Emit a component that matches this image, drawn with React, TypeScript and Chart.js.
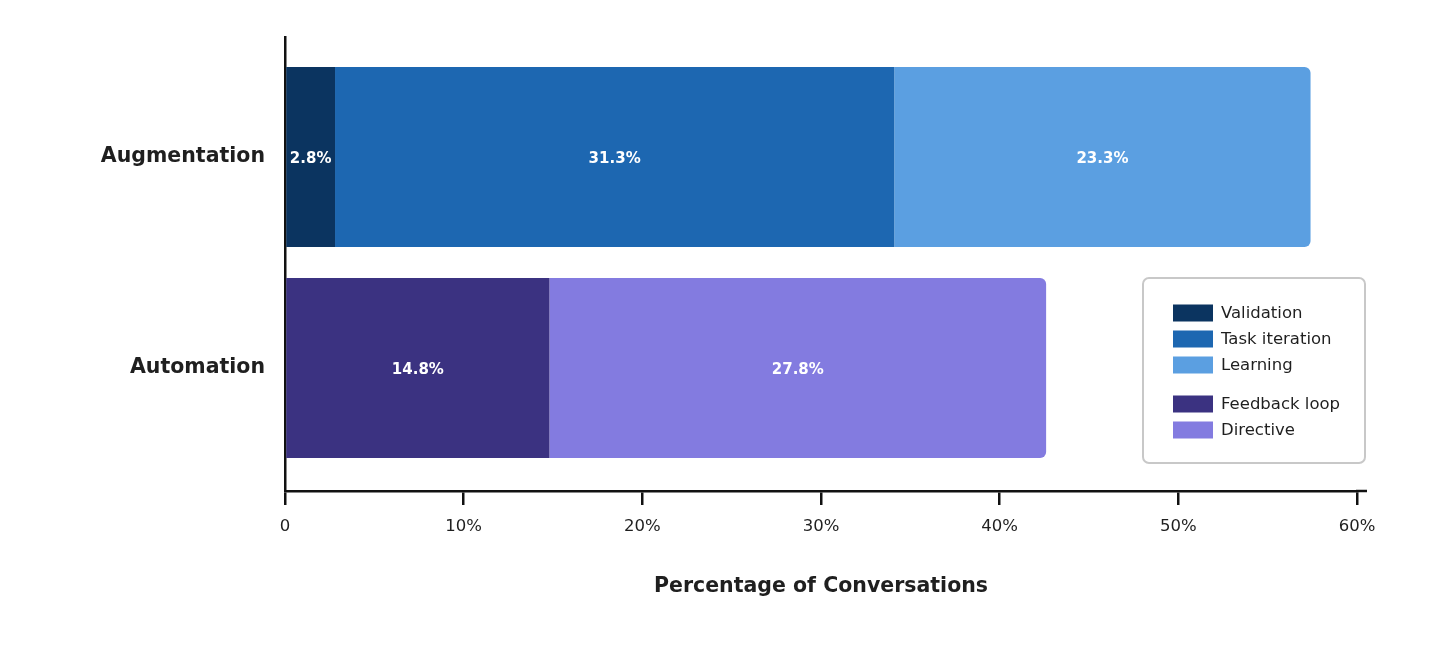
import React, { useEffect, useRef } from "react";
import { Chart, registerables } from "chart.js";

Chart.register(...registerables);

// ---- data ----
const categories = ["Augmentation", "Automation"];
const seriesNames = ["Validation", "Task iteration", "Learning", "Feedback loop", "Directive"];
const validation = [2.8, null];
const taskIteration = [31.3, null];
const learning = [23.3, null];
const feedbackLoop = [null, 14.8];
const directive = [null, 27.8];
const seriesColors = ["#0b3460", "#1d67b1", "#5b9fe1", "#3b3281", "#837be0"];
const xTicks = [0, 10, 20, 30, 40, 50, 60];
const axisTitle = "Percentage of Conversations";
const legendGroups = [[0, 1, 2], [3, 4]];

const FONT = "'DejaVu Sans', sans-serif";
const TEXT = "#1f1f1f";

const seriesValues = [validation, taskIteration, learning, feedbackLoop, directive];

export default function App() {
  const ref = useRef<HTMLCanvasElement>(null);

  useEffect(() => {
    document.body.style.margin = "0";
    const canvas = ref.current;
    if (!canvas) return;

    const datasets = seriesNames.map((name, si) => {
      const isLast = si === 2 || si === 4;
      return {
        label: name,
        data: seriesValues[si]
          .map((v, i) => (v == null ? null : { x: v, y: i }))
          .filter((d) => d !== null),
        backgroundColor: seriesColors[si],
        borderWidth: 0,
        borderSkipped: false,
        borderRadius: isLast
          ? { topLeft: 0, bottomLeft: 0, topRight: 6, bottomRight: 6 }
          : 0,
        categoryPercentage: 1,
        barPercentage: 0.853,
      };
    });

    const labelPlugin = {
      id: "segLabels",
      afterDatasetsDraw(chart: any) {
        const ctx = chart.ctx;
        ctx.save();
        ctx.fillStyle = "#ffffff";
        ctx.font = `bold 15px ${FONT}`;
        ctx.textAlign = "center";
        ctx.textBaseline = "middle";
        chart.data.datasets.forEach((ds: any, di: number) => {
          const meta = chart.getDatasetMeta(di);
          meta.data.forEach((el: any, i: number) => {
            const p = el.getProps(["x", "y", "base"], true);
            const v = ds.data[i].x;
            ctx.fillText(`${v.toFixed(1)}%`, (p.x + p.base) / 2, p.y + 2);
          });
        });
        ctx.restore();
      },
    };

    const legendPlugin = {
      id: "groupLegend",
      afterDraw(chart: any) {
        const ctx = chart.ctx;
        const area = chart.chartArea;
        ctx.save();
        // extend x axis line a little beyond last tick
        ctx.strokeStyle = "#111";
        ctx.lineWidth = 2.5;
        ctx.beginPath();
        ctx.moveTo(area.right - 1, area.bottom);
        ctx.lineTo(area.right + 10, area.bottom);
        ctx.stroke();

        // legend box
        const bx = 1143, by = 278, bw = 222, bh = 185, r = 6;
        ctx.fillStyle = "#ffffff";
        ctx.strokeStyle = "#c8c8c8";
        ctx.lineWidth = 2;
        ctx.beginPath();
        ctx.roundRect(bx, by, bw, bh, r);
        ctx.fill();
        ctx.stroke();

        ctx.font = `16.5px ${FONT}`;
        ctx.textAlign = "left";
        ctx.textBaseline = "middle";
        let y = 313;
        legendGroups.forEach((group) => {
          group.forEach((si) => {
            ctx.fillStyle = seriesColors[si];
            ctx.fillRect(1173, y - 8.5, 40, 17);
            ctx.fillStyle = TEXT;
            ctx.fillText(seriesNames[si], 1221, y + 1);
            y += 26;
          });
          y += 13;
        });
        ctx.restore();
      },
    };

    const chart = new Chart(canvas, {
      type: "bar",
      data: { datasets: datasets as any },
      options: {
        indexAxis: "y",
        responsive: false,
        animation: false,
        layout: { padding: { top: 37, right: 95, left: 0, bottom: 0 } },
        plugins: { legend: { display: false }, tooltip: { enabled: false } },
        scales: {
          x: {
            type: "linear",
            stacked: true,
            min: xTicks[0],
            max: xTicks[xTicks.length - 1],
            afterFit: (s: any) => {
              s.height = 174;
            },
            afterBuildTicks: (s: any) => {
              s.ticks = xTicks.map((v) => ({ value: v }));
            },
            ticks: {
              callback: (v: any) => (v === 0 ? "0" : `${v}%`),
              color: TEXT,
              font: { size: 16.5, family: FONT },
              padding: 12,
              maxRotation: 0,
            },
            grid: {
              drawOnChartArea: false,
              drawTicks: true,
              tickLength: 14,
              color: "#111",
              lineWidth: 2.5,
            },
            border: { display: true, color: "#111", width: 2.5 },
            title: {
              display: true,
              text: axisTitle,
              color: TEXT,
              font: { size: 20.5, weight: "bold", family: FONT },
              padding: { top: 0, bottom: 66 },
            },
          },
          y: {
            type: "linear",
            stacked: true,
            reverse: true,
            offset: false,
            min: -0.569,
            max: 1.583,
            afterFit: (s: any) => {
              s.width = 285;
            },
            afterBuildTicks: (s: any) => {
              s.ticks = categories.map((_, i) => ({ value: i }));
            },
            ticks: {
              callback: (v: any) => categories[v] ?? "",
              color: TEXT,
              font: { size: 20.5, weight: "bold", family: FONT },
              padding: 20,
            },
            grid: { display: false, drawTicks: false, offset: false },
            border: { display: true, color: "#111", width: 2.5 },
          },
        },
      } as any,
      plugins: [labelPlugin, legendPlugin],
    });

    return () => chart.destroy();
  }, []);

  return (
    <div style={{ width: 1452, height: 665 }}>
      <canvas ref={ref} width={1452} height={665} />
    </div>
  );
}
